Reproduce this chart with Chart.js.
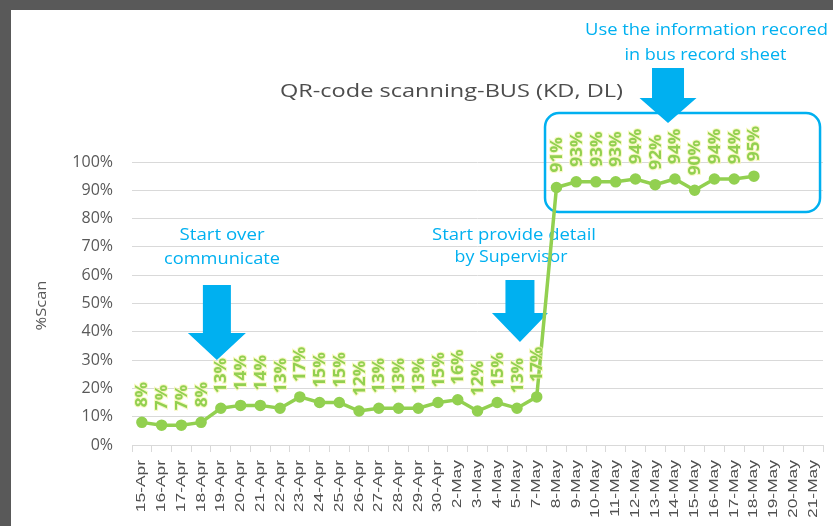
<!DOCTYPE html>
<html lang="en">
<head>
  <meta charset="UTF-8">
  <title>QR-code scanning-BUS (KD, DL)</title>
  <script src="https://cdn.jsdelivr.net/npm/chart.js"></script>
  <style>
    html, body { margin: 0; padding: 0; background: #595959; overflow: hidden; }
    #sheet { position: absolute; left: 11px; top: 10px; right: 0; bottom: 0; background: #fff; }
    #chart { position: absolute; left: 0; top: 0; }
  </style>
</head>
<body>
  <div id="sheet"></div>
  <canvas id="chart" width="833" height="526"></canvas>

  <script>
    // data
    const days = [
      '15-Apr', '16-Apr', '17-Apr', '18-Apr', '19-Apr', '20-Apr', '21-Apr', '22-Apr',
      '23-Apr', '24-Apr', '25-Apr', '26-Apr', '27-Apr', '28-Apr', '29-Apr', '30-Apr',
      '2-May', '3-May', '4-May', '5-May', '7-May', '8-May', '9-May', '10-May',
      '11-May', '12-May', '13-May', '14-May', '15-May', '16-May', '17-May', '18-May',
      '19-May', '20-May', '21-May'
    ];
    const scanPct = [
      8, 7, 7, 8, 13, 14, 14, 13, 17, 15, 15, 12, 13, 13, 13, 15,
      16, 12, 15, 13, 17, 91, 93, 93, 93, 94, 92, 94, 90, 94, 94, 95,
      null, null, null
    ];
    const yTickValues = [0, 10, 20, 30, 40, 50, 60, 70, 80, 90, 100];

    const chartTitle = 'QR-code scanning-BUS (KD, DL)';
    const yTitle = '%Scan';

    // annotations, placed in chart units (category index, % value)
    const notes = [
      { text: chartTitle, x: 15.68, y: 124.7, w: 343, size: 18, color: '#4d4d4d' },
      { text: 'Start over', x: 4.06, y: 74.2, w: 85, size: 16, color: '#00B0F0' },
      { text: 'communicate', x: 4.06, y: 65.7, w: 116, size: 16, color: '#00B0F0' },
      { text: 'Start provide detail', x: 18.85, y: 74.2, w: 164, size: 16, color: '#00B0F0' },
      { text: 'by Supervisor', x: 18.7, y: 66.1, w: 113, size: 16, color: '#00B0F0' },
      { text: 'Use the information recored', x: 28.6, y: 146.6, w: 243, size: 16, color: '#00B0F0' },
      { text: 'in bus record sheet', x: 28.55, y: 137.8, w: 162, size: 16, color: '#00B0F0' }
    ];
    const arrows = [
      { x: 3.8, top: 56.5, neck: 39.6, tip: 30, shaft: 28, head: 58 },
      { x: 19.15, top: 58.3, neck: 46.6, tip: 36.4, shaft: 29, head: 56 },
      { x: 26.65, top: 133.2, neck: 122.6, tip: 113.8, shaft: 32, head: 57 }
    ];
    const box = { x0: 20.42, x1: 34.35, y0: 117.3, y1: 82.3 };

    const green = '#92D050';
    const blue = '#00B0F0';
    const grey = '#595959';
    const gridGrey = '#d9d9d9';

    function fitText(ctx, text, cx, cy, w, size, color, rot) {
      ctx.save();
      ctx.font = size + 'px "Open Sans"';
      const m = ctx.measureText(text).width;
      ctx.translate(cx, cy);
      if (rot) ctx.rotate(rot);
      ctx.scale(w / m, 1);
      ctx.fillStyle = color;
      ctx.textAlign = 'center';
      ctx.textBaseline = 'middle';
      ctx.fillText(text, 0, 0);
      ctx.restore();
    }

    const extras = {
      id: 'extras',
      beforeDatasetsDraw(chart) {
        const ctx = chart.ctx;
        const xs = chart.scales.x, ys = chart.scales.y;

        // rounded box round the last block of points
        const bx0 = xs.getPixelForValue(box.x0), bx1 = xs.getPixelForValue(box.x1);
        const by0 = ys.getPixelForValue(box.y0), by1 = ys.getPixelForValue(box.y1);
        ctx.save();
        ctx.strokeStyle = blue;
        ctx.lineWidth = 2.5;
        ctx.beginPath();
        ctx.roundRect(bx0, by0, bx1 - bx0, by1 - by0, 14);
        ctx.stroke();
        ctx.restore();

        // arrows
        ctx.save();
        ctx.fillStyle = blue;
        arrows.forEach(a => {
          const cx = xs.getPixelForValue(a.x);
          const top = ys.getPixelForValue(a.top);
          const neck = ys.getPixelForValue(a.neck);
          const tip = ys.getPixelForValue(a.tip);
          ctx.beginPath();
          ctx.moveTo(cx - a.shaft / 2, top);
          ctx.lineTo(cx + a.shaft / 2, top);
          ctx.lineTo(cx + a.shaft / 2, neck);
          ctx.lineTo(cx + a.head / 2, neck);
          ctx.lineTo(cx, tip);
          ctx.lineTo(cx - a.head / 2, neck);
          ctx.lineTo(cx - a.shaft / 2, neck);
          ctx.closePath();
          ctx.fill();
        });
        ctx.restore();

        notes.forEach(n => {
          fitText(ctx, n.text, xs.getPixelForValue(n.x), ys.getPixelForValue(n.y), n.w, n.size, n.color);
        });

        // y axis title
        fitText(ctx, yTitle, 42, (ys.top + ys.bottom) / 2 + 2, 50, 15, grey, -Math.PI / 2);

        // x tick labels, rotated and stretched like the original
        ctx.save();
        ctx.font = '12px "Liberation Sans", Arial, sans-serif';
        ctx.fillStyle = '#505050';
        ctx.textAlign = 'right';
        ctx.textBaseline = 'middle';
        days.forEach((d, i) => {
          ctx.save();
          ctx.translate(xs.getPixelForValue(i), xs.top + 15);
          ctx.rotate(-Math.PI / 2);
          ctx.scale(1.45, 1.05);
          ctx.fillText(d, 0, 0);
          ctx.restore();
        });
        ctx.restore();
      },
      afterDatasetsDraw(chart) {
        const ctx = chart.ctx;
        const meta = chart.getDatasetMeta(0);
        ctx.save();
        ctx.font = 'bold 16px "Open Sans"';
        ctx.textAlign = 'left';
        ctx.textBaseline = 'middle';
        meta.data.forEach((pt, i) => {
          if (scanPct[i] == null) return;
          ctx.save();
          ctx.translate(pt.x + 1, pt.y - 15);
          ctx.rotate(-Math.PI / 2);
          ctx.scale(1.08, 1);
          const t = scanPct[i] + '%';
          ctx.lineWidth = 2;
          ctx.strokeStyle = 'rgba(245,245,170,0.7)';
          ctx.strokeText(t, 0, 0);
          ctx.fillStyle = green;
          ctx.fillText(t, 0, 0);
          ctx.restore();
        });
        ctx.restore();
      }
    };

    new Chart(document.getElementById('chart'), {
      type: 'line',
      data: {
        labels: days,
        datasets: [{
          data: scanPct,
          borderColor: green,
          backgroundColor: green,
          borderWidth: 3.5,
          pointRadius: 4,
          pointBackgroundColor: green,
          pointBorderColor: green,
          tension: 0,
          spanGaps: false
        }]
      },
      options: {
        responsive: false,
        animation: false,
        devicePixelRatio: 1,
        layout: { padding: { top: 162, right: 10, bottom: 0, left: 0 } },
        plugins: { legend: { display: false }, tooltip: { enabled: false } },
        scales: {
          x: {
            offset: true,
            grid: { offset: true, drawOnChartArea: false, drawTicks: true, tickLength: 7, color: gridGrey },
            border: { color: gridGrey },
            ticks: { display: false },
            afterFit(scale) { scale.height = 81; }
          },
          y: {
            min: 0,
            max: 100,
            afterBuildTicks(scale) { scale.ticks = yTickValues.map(v => ({ value: v })); },
            grid: { color: gridGrey, drawTicks: false },
            border: { display: false },
            ticks: {
              padding: 19,
              color: grey,
              font: { family: 'Open Sans', size: 16 },
              callback: v => v + '%'
            },
            afterFit(scale) { scale.width = 132; }
          }
        }
      },
      plugins: [extras]
    });
  </script>
</body>
</html>
